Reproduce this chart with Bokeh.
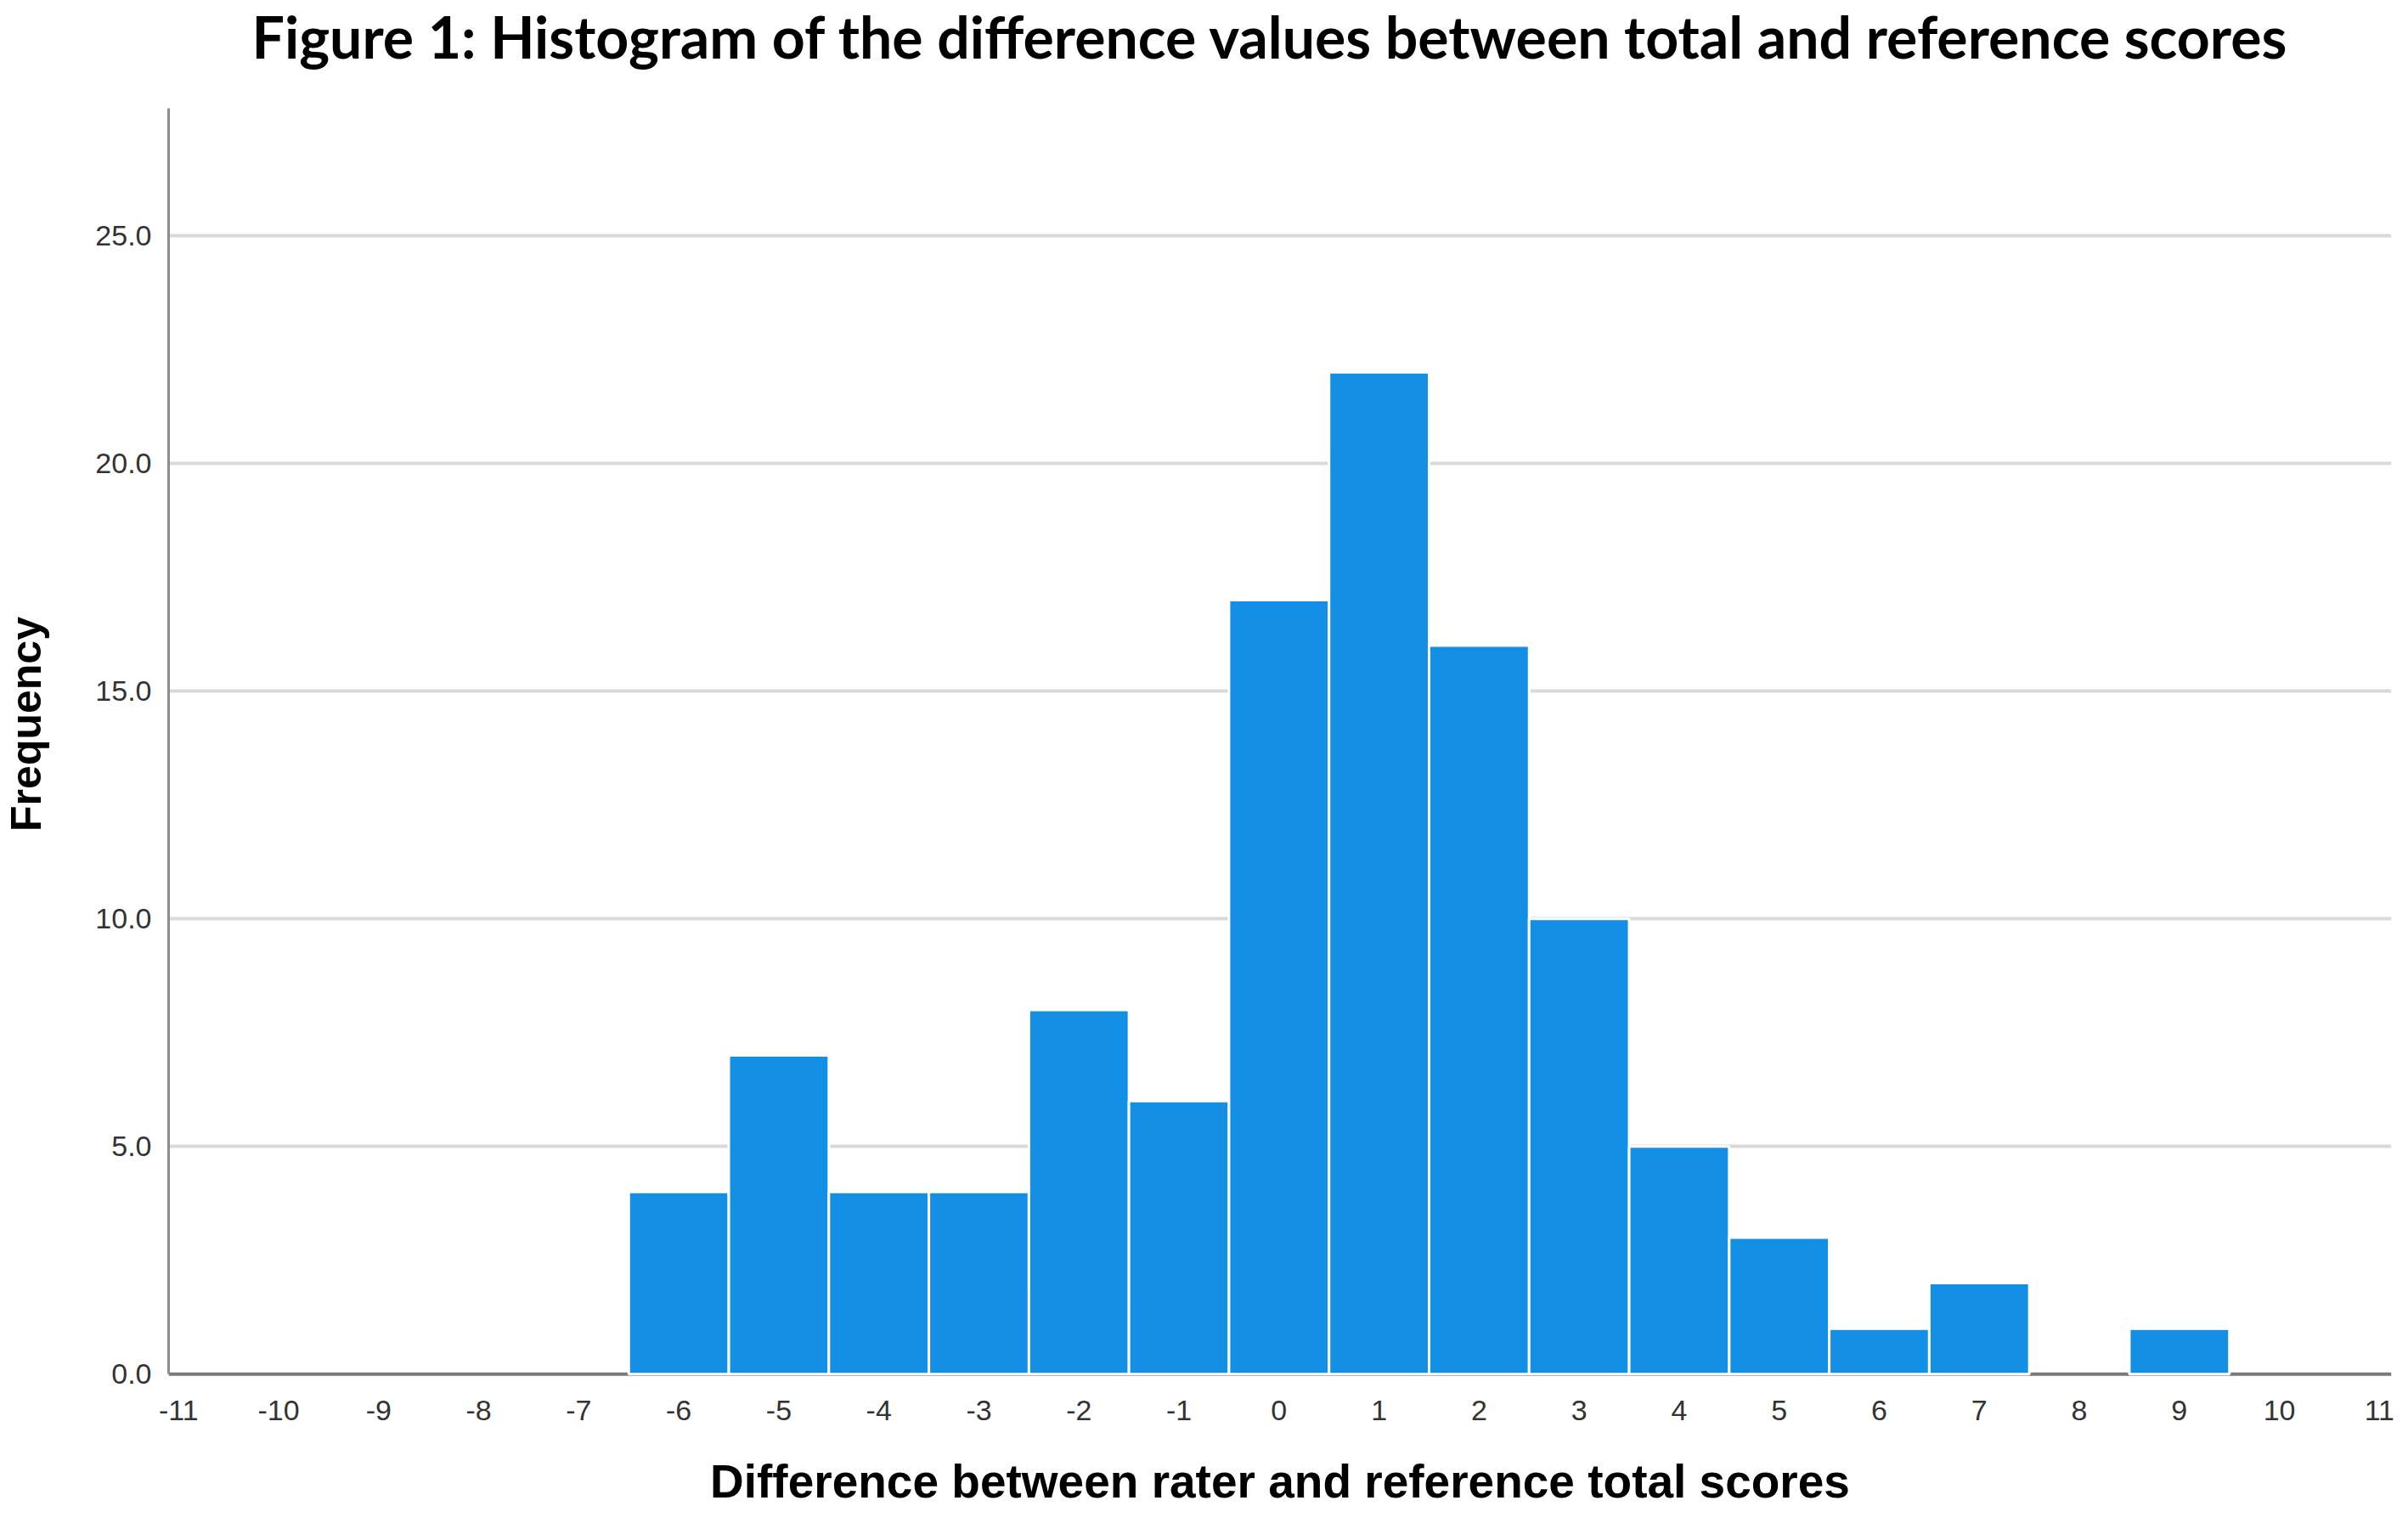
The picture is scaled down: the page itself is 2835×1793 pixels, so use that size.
from bokeh.plotting import figure
from bokeh.models import Range1d, FixedTicker, Span, Title, CustomJSTickFormatter
from bokeh.embed import file_html
from bokeh.resources import INLINE

# ---- data ----
bin_centers = [-6, -5, -4, -3, -2, -1, 0, 1, 2, 3, 4, 5, 6, 7, 8, 9, 10]
frequencies = [4, 7, 4, 4, 8, 6, 17, 22, 16, 10, 5, 3, 1, 2, 0, 1, 0]
x_ticks = list(range(-11, 12))
y_ticks = [0, 5, 10, 15, 20, 25]
grid_ticks = [5, 10, 15, 20, 25]
bin_width = 1.0
y_axis_top = 27.79

title_text = "Figure 1: Histogram of the difference values between total and reference scores"
x_label = "Difference between rater and reference total scores"
y_label = "Frequency"

W, H = 2819, 1777
B_LEFT, B_RIGHT, B_TOP, B_BOTTOM = 189, 4, 84, 154

p = figure(width=W, height=H, output_backend="svg", toolbar_location=None,
           x_range=Range1d(-11.1, 11.12), y_range=Range1d(-0.05, 28.60),
           min_border_left=B_LEFT, min_border_right=B_RIGHT,
           min_border_top=B_TOP, min_border_bottom=B_BOTTOM)
p.title = None
p.outline_line_color = None
p.background_fill_color = "white"
p.border_fill_color = "white"

# title directly above the frame
t = Title(text=title_text, align="left", vertical_align="top", offset=98,
          standoff=0, text_font="Lato", text_font_size="68px",
          text_font_style="bold", text_color="black")
p.add_layout(t, "above")

# grid
p.xgrid.grid_line_color = None
p.ygrid.ticker = FixedTicker(ticks=grid_ticks)
p.ygrid.grid_line_color = "#d9d9d9"
p.ygrid.grid_line_width = 4

# baseline (drawn under bars)
base = Span(location=0, dimension="width", line_color="#7a7a7a", line_width=4,
            level="underlay")
p.add_layout(base)

# only non-empty bins get a visible bar
nz = [i for i, f in enumerate(frequencies) if f > 0]
lefts = [bin_centers[i] - bin_width / 2 for i in nz]
rights = [bin_centers[i] + bin_width / 2 for i in nz]
tops = [frequencies[i] for i in nz]
p.quad(left=lefts, right=rights, bottom=0, top=tops,
       fill_color="#1390E6", line_color="white", line_width=3)

# x axis
xa = p.xaxis[0]
xa.ticker = FixedTicker(ticks=x_ticks)
xa.formatter = CustomJSTickFormatter(code="return String(tick);")
xa.axis_line_color = None
xa.major_tick_line_color = None
xa.minor_tick_line_color = None
xa.major_label_text_font = "Liberation Sans"
xa.major_label_text_font_size = "34px"
xa.major_label_text_color = "#333333"
xa.major_label_standoff = 22
xa.axis_label = x_label
xa.axis_label_text_font = "Liberation Sans"
xa.axis_label_text_font_size = "55px"
xa.axis_label_text_font_style = "bold"
xa.axis_label_text_color = "black"
xa.axis_label_standoff = 38

# y axis (line stops at the top of the value area)
ya = p.yaxis[0]
ya.ticker = FixedTicker(ticks=y_ticks)
ya.bounds = (0, y_axis_top)
ya.formatter = CustomJSTickFormatter(code="return tick.toFixed(1);")
ya.axis_line_color = "#8c8c8c"
ya.axis_line_width = 3
ya.major_tick_line_color = None
ya.minor_tick_line_color = None
ya.major_label_text_font = "Liberation Sans"
ya.major_label_text_font_size = "34px"
ya.major_label_text_color = "#333333"
ya.major_label_standoff = 14
ya.axis_label = y_label
ya.axis_label_text_font = "Liberation Sans"
ya.axis_label_text_font_size = "50px"
ya.axis_label_text_font_style = "bold"
ya.axis_label_text_color = "black"
ya.axis_label_standoff = 50

open("out.html", "w").write(file_html(p, INLINE))
